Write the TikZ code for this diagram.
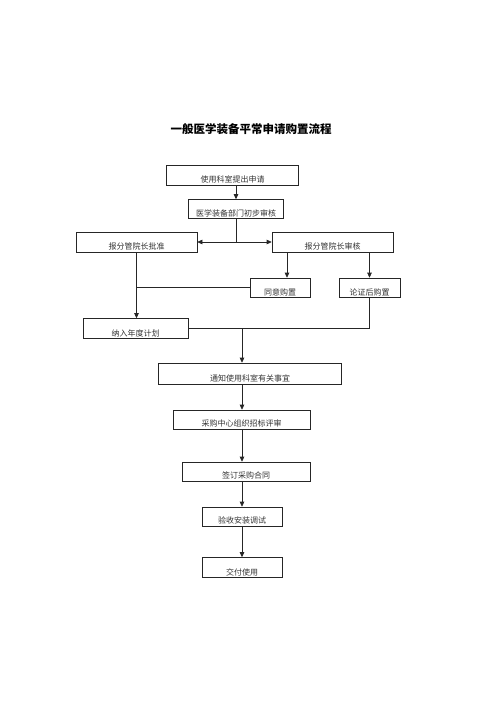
\documentclass[tikz,border=0pt]{standalone}
\usepackage{fontspec}
\newfontfamily\cjk{Noto Sans CJK SC}
\usetikzlibrary{arrows.meta}
\begin{document}
\begin{tikzpicture}[x=1pt,y=-1pt,
  box/.style={draw=black!85, line width=0.6pt, inner sep=0pt, minimum height=19pt},
  txt/.style={font=\cjk\fontsize{8}{9}\selectfont, inner sep=0pt, text=black!80},
  ln/.style={draw=black!85, line width=0.6pt},
  arr/.style={ln, -{Triangle[length=5pt,width=4.5pt]}}]
\useasboundingbox (0,0) rectangle (500,707);
\node[font=\cjk\bfseries\fontsize{11.5}{12}\selectfont] (title) at (251,129) {一般医学装备平常申请购置流程};
% boxes
\node[box, minimum width=132pt, minimum height=20pt] (b1) at (232.5,175) {};
\node[box, minimum width=95pt] (b2) at (236,209) {};
\node[box, minimum width=121pt, minimum height=20pt] (b3l) at (136.5,242) {};
\node[box, minimum width=121pt, minimum height=20pt] (b3r) at (332.5,242) {};
\node[box, minimum width=60pt] (sa) at (280,287.5) {};
\node[box, minimum width=61pt] (sb) at (369.5,287.5) {};
\node[box, minimum width=105pt, minimum height=20pt] (b4) at (135.5,328.5) {};
\node[box, minimum width=183pt, minimum height=21pt] (b5) at (250,373.5) {};
\node[box, minimum width=137pt] (b6) at (241.5,419.5) {};
\node[box, minimum width=128pt] (b7) at (246,471.5) {};
\node[box, minimum width=80pt] (b8) at (242,516.5) {};
\node[box, minimum width=80pt, minimum height=20pt] (b9) at (242,567.5) {};
% texts
\node[txt] (t1) at ([yshift=5.5pt]b1.south) {使用科室提出申请};
\node[txt] (t2) at ([yshift=5pt]b2.south) {医学装备部门初步审核};
\node[txt] (t3l) at ([yshift=5.5pt]b3l.south) {报分管院长批准};
\node[txt] (t3r) at ([yshift=5.5pt]b3r.south) {报分管院长审核};
\node[txt] (tsa) at ([yshift=5pt]sa.south) {同意购置};
\node[txt] (tsb) at ([yshift=5pt]sb.south) {论证后购置};
\node[txt] (t4) at ([yshift=5.5pt]b4.south) {纳入年度计划};
\node[txt] (t5) at ([yshift=5.5pt]b5.south) {通知使用科室有关事宜};
\node[txt] (t6) at ([yshift=5.5pt]b6.south) {采购中心组织招标评审};
\node[txt] (t7) at ([yshift=5.5pt]b7.south) {签订采购合同};
\node[txt] (t8) at ([yshift=5.5pt]b8.south) {验收安装调试};
\node[txt] (t9) at ([yshift=5.5pt]b9.south) {交付使用};
% connectors
\draw[arr] (b2.north |- b1.south) -- (b2.north);
\coordinate (j1) at (b2.south |- b3l.east);
\draw[ln] (b2.south) -- (j1);
\draw[arr] (j1) -- (b3l.east);
\draw[arr] (j1) -- (b3r.west);
\draw[arr] (b3l.south) -- (b3l.south |- b4.north);
\draw[ln] (sa.west -| b3l.south) -- (sa.west);
\draw[arr] ([xshift=7pt]sa.north |- b3r.south) -- ([xshift=7pt]sa.north);
\draw[arr] (sb.north |- b3r.south) -- (sb.north);
\coordinate (j2) at (242,0 |- b4.east);
\draw[ln] (sb.south) |- (b4.east);
\draw[arr] (j2) -- (j2 |- b5.north);
\draw[arr] (j2 |- b5.south) -- (j2 |- b6.north);
\draw[arr] (j2 |- b6.south) -- (j2 |- b7.north);
\draw[arr] (j2 |- b7.south) -- (j2 |- b8.north);
\draw[arr] (j2 |- b8.south) -- (j2 |- b9.north);
\end{tikzpicture}
\end{document}
